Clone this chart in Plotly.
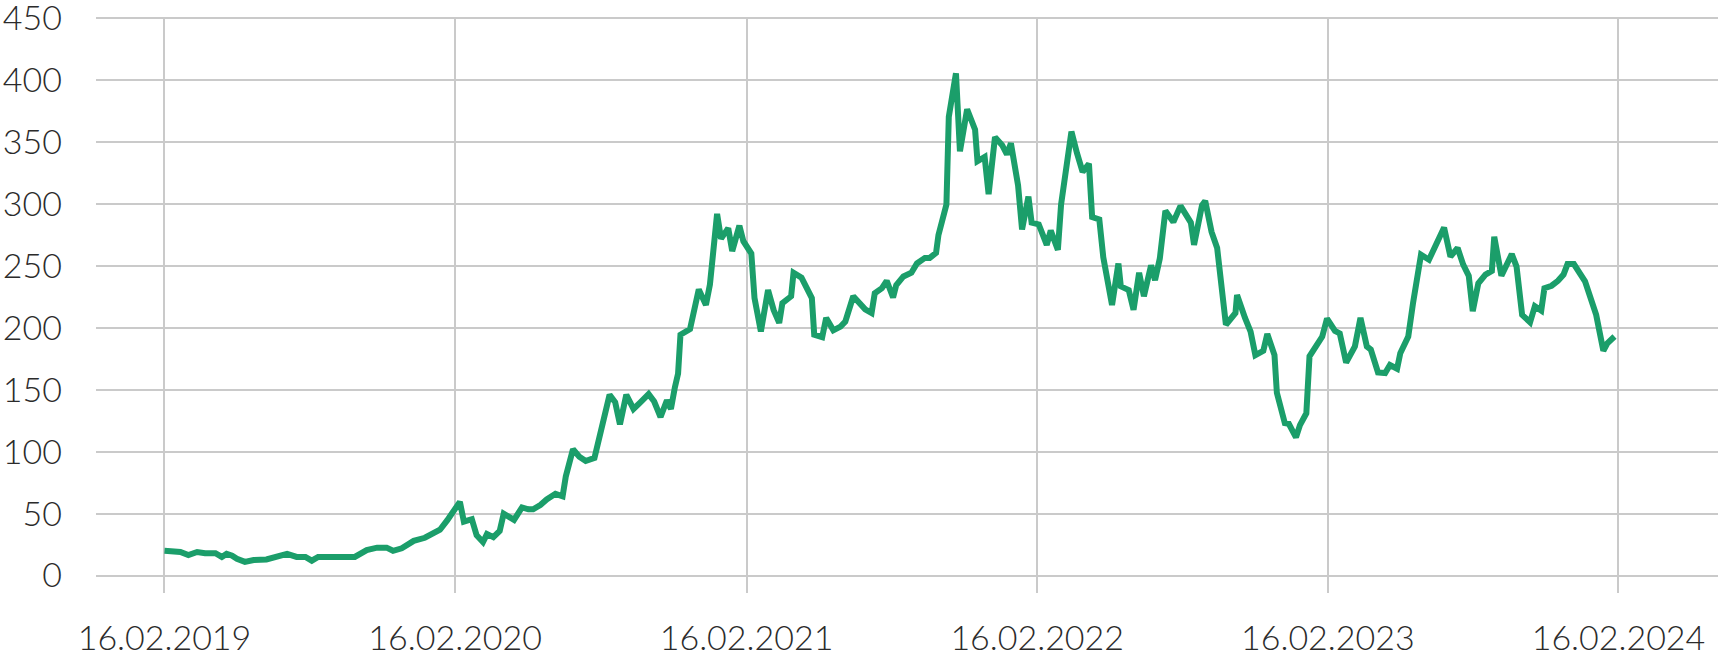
import pandas as pd
import plotly.graph_objects as go

# Observation offsets in days from 16.02.2019 and the corresponding values
days = [0, 9, 20, 30, 41, 51, 64, 72, 78, 85, 91, 101, 112, 128, 141, 154, 166, 177, 185, 193,
        212, 239, 254, 267, 279, 287, 298, 313, 327, 338, 346, 355, 371, 376, 386, 392, 400, 405,
        413, 421, 426, 439, 449, 457, 463, 472, 480, 491, 500, 504, 513, 521, 529, 540, 546, 551,
        559, 566, 572, 580, 589, 597, 608, 615, 623, 631, 636, 641, 645, 648, 660, 671, 680, 685,
        689, 694, 699, 708, 713, 722, 727, 737, 741, 749, 758, 765, 772, 776, 787, 790, 800, 808,
        813, 816, 826, 831, 840, 849, 855, 865, 880, 888, 892, 901, 907, 915, 919, 928, 938, 945,
        955, 961, 969, 972, 982, 985, 994, 999, 1008, 1018, 1021, 1030, 1035, 1043, 1052, 1058,
        1063, 1072, 1077, 1085, 1089, 1098, 1108, 1113, 1122, 1126, 1131, 1139, 1146, 1153, 1161,
        1165, 1174, 1179, 1190, 1198, 1201, 1211, 1217, 1224, 1230, 1239, 1244, 1250, 1257, 1267,
        1276, 1286, 1289, 1293, 1303, 1307, 1315, 1322, 1333, 1345, 1347, 1357, 1364, 1370, 1380,
        1385, 1394, 1397, 1407, 1412, 1421, 1426, 1434, 1438, 1448, 1454, 1460, 1470, 1476, 1484,
        1495, 1502, 1510, 1515, 1524, 1533, 1539, 1548, 1552, 1562, 1568, 1578, 1588, 1607, 1615,
        1624, 1631, 1638, 1643, 1650, 1659, 1667, 1670, 1679, 1692, 1698, 1705, 1715, 1721, 1729,
        1733, 1742, 1750, 1757, 1762, 1770, 1784, 1798, 1807, 1812, 1821]

values = [20, 19, 19, 16.5, 19, 18, 18, 15, 17.5, 16, 13.5, 11, 12.5, 13, 15, 17.5, 15, 15, 12, 15,
          15, 15, 20.5, 22.5, 22.5, 20, 22, 28, 30.5, 34, 37, 44.5, 59.5, 43.5, 45.5, 32.5, 27, 33.5,
          31, 36, 50, 45, 55, 53.5, 53.5, 57, 61.5, 66, 64, 80, 102, 96, 92.5, 95, 111, 128,
          146, 140, 122, 146, 134.5, 139.5, 146.5, 140.5, 128, 141.5, 134.5, 152, 163, 194.5, 199, 231, 218.5, 235,
          261, 292, 272, 280.5, 262, 282.5, 270, 260, 224, 197, 230.5, 214.5, 204, 220, 225.5, 244.5, 240.5, 231,
          224, 194.5, 192.5, 208, 198, 201, 205, 225.5, 215, 212, 228, 232, 238, 224.5, 234.5, 241.5, 244.5, 252,
          256.5, 256.5, 260.5, 275, 299.5, 370.5, 405.5, 342.5, 376.5, 360, 334.5, 338, 308, 354, 347.5, 340,
          349, 315, 279.5, 306, 285, 283.5, 267, 278.5, 263, 299.5, 322, 358.5, 341, 326, 332.5,
          289.5, 287.5, 257, 218.5, 252, 233.5, 230.5, 214.5, 244.5, 225.5, 250.5, 238.5, 256, 294.5, 285.5,
          298.5, 289.5, 285, 267, 299, 302.5, 277.5, 264.5, 202.5, 212, 226.5, 208, 197, 178, 181.5,
          195, 178, 147.5, 123, 122.5, 111.5, 121.5, 131, 177, 188, 193, 207.5, 197.5, 195.5, 172,
          185, 208, 185, 182.5, 164, 163.5, 170, 167, 179.5, 193, 220, 259, 255, 281, 257.5,
          264.5, 251, 242, 213.5, 236, 243, 246, 273.5, 242, 259.5, 249.5, 210.5, 204.5, 217.5, 214,
          232, 234, 238, 243, 251.5, 251.5, 237.5, 210.5, 181.5, 187.5, 193]

tick_dates = ["2019-02-16", "2020-02-16", "2021-02-16", "2022-02-16", "2023-02-16", "2024-02-16"]
tick_labels = ["16.02.2019", "16.02.2020", "16.02.2021", "16.02.2022", "16.02.2023", "16.02.2024"]
y_ticks = [0, 50, 100, 150, 200, 250, 300, 350, 400, 450]

dates = pd.Timestamp("2019-02-16") + pd.to_timedelta(days, unit="D")

fig = go.Figure()
fig.add_trace(go.Scatter(
    x=dates, y=values, mode="lines",
    line=dict(color="#1b9e6a", width=6),
    hoverinfo="x+y", showlegend=False,
))

font = dict(family="Lato, Liberation Sans, Arial, sans-serif", size=34, color="#2b2b2b", weight=300)

fig.update_layout(
    width=1718, height=658,
    margin=dict(l=96, r=0, t=17, b=65, pad=0),
    paper_bgcolor="white", plot_bgcolor="white",
    font=font,
    xaxis=dict(
        type="date",
        range=["2018-11-22", "2024-06-20"],
        tickvals=tick_dates, ticktext=tick_labels,
        showgrid=True, gridcolor="#cacaca", gridwidth=2,
        zeroline=False, showline=False, ticks="",
        ticklabelstandoff=22,
        ticklabeloverflow="allow",
        tickfont=font,
        automargin=False,
    ),
    yaxis=dict(
        range=[-14.1, 451],
        tickvals=y_ticks,
        showgrid=True, gridcolor="#cacaca", gridwidth=2,
        zeroline=False, showline=False, ticks="",
        ticklabelstandoff=33,
        ticklabeloverflow="allow",
        tickfont=font,
        automargin=False,
    ),
)

fig.write_html(
    "out.html",
    config={"displayModeBar": False},
    post_script="document.body.style.margin='0px'; document.body.style.overflow='hidden';",
)
